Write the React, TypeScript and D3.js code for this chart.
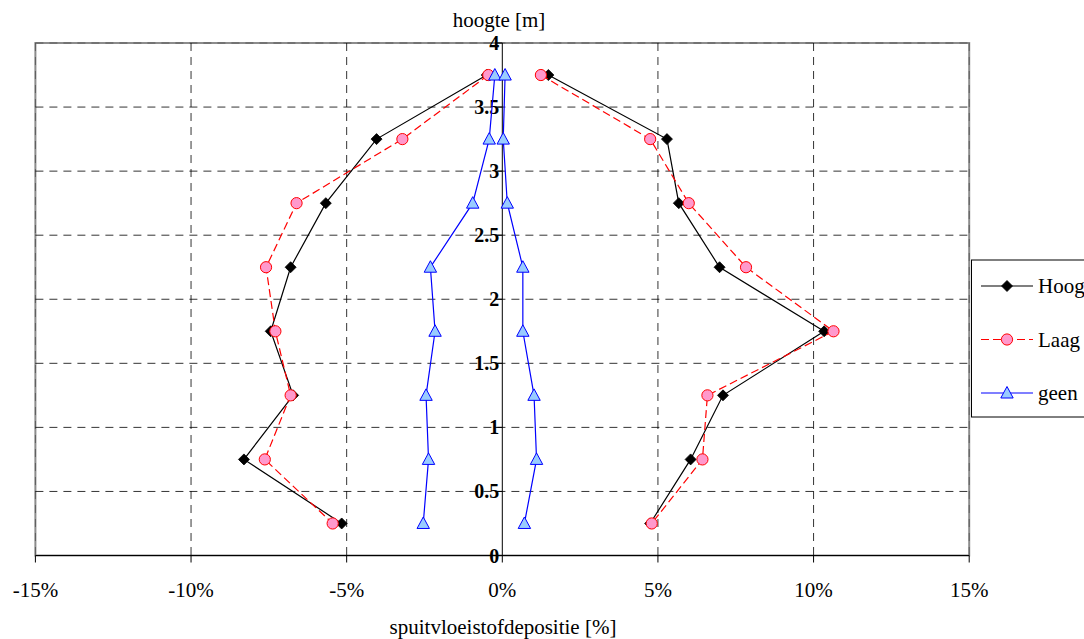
import React from 'react'
import * as d3 from 'd3'

// heights (m) at which deposition was measured
const heights = [3.75, 3.25, 2.75, 2.25, 1.75, 1.25, 0.75, 0.25]

// left side of the tree (negative) and right side (positive), in %
const hoogLeft = [-0.5, -4.04, -5.67, -6.8, -7.44, -6.72, -8.3, -5.16]
const hoogRight = [1.48, 5.29, 5.67, 6.98, 10.34, 7.09, 6.05, 4.75]
const laagLeft = [-0.45, -3.21, -6.61, -7.59, -7.29, -6.8, -7.63, -5.45]
const laagRight = [1.24, 4.75, 5.99, 7.83, 10.64, 6.59, 6.43, 4.8]
const geenLeft = [-0.24, -0.42, -0.95, -2.31, -2.16, -2.45, -2.37, -2.54]
const geenRight = [0.09, 0.03, 0.16, 0.66, 0.66, 1.02, 1.1, 0.71]

const xTicks = [-15, -10, -5, 0, 5, 10, 15]
const yTicks = [0, 0.5, 1, 1.5, 2, 2.5, 3, 3.5, 4]

const seriesNames = ['Hoog', 'Laag', 'geen']

const W = 1084
const H = 639
const plot = { left: 35.4, right: 969.2, top: 43, bottom: 555.5 }
const font = 'Liberation Serif'

const x = d3.scaleLinear().domain([-15, 15]).range([plot.left, plot.right])
const y = d3.scaleLinear().domain([0, 4]).range([plot.bottom, plot.top])

const line = d3
  .line<[number, number]>()
  .x((d) => x(d[0]))
  .y((d) => y(d[1]))

const pairs = (vals: number[]) => vals.map((v, i) => [v, heights[i]] as [number, number])

type Style = { stroke: string; dash?: string; marker: 'diamond' | 'circle' | 'triangle' }
const styles: Style[] = [
  { stroke: '#000000', marker: 'diamond' },
  { stroke: '#ff0000', dash: '8,4', marker: 'circle' },
  { stroke: '#0000ff', marker: 'triangle' },
]

// marker drawn centred on (cx, cy)
const Marker = ({ kind, cx, cy }: { kind: Style['marker']; cx: number; cy: number }) => {
  if (kind === 'diamond')
    return (
      <path
        d={`M${cx},${cy - 5.5} L${cx + 5.5},${cy} L${cx},${cy + 5.5} L${cx - 5.5},${cy} Z`}
        fill="#000"
        stroke="#000"
        strokeWidth={0.8}
      />
    )
  if (kind === 'circle')
    return <circle cx={cx} cy={cy} r={5.6} fill="#ff99cc" stroke="#ff0000" strokeWidth={1} />
  return (
    <path
      d={`M${cx},${cy - 6.5} L${cx + 6.2},${cy + 5} L${cx - 6.2},${cy + 5} Z`}
      fill="#99ccff"
      stroke="#0000ff"
      strokeWidth={1}
    />
  )
}

const Series = ({ left, right, style }: { left: number[]; right: number[]; style: Style }) => (
  <g>
    {[left, right].map((vals, k) => (
      <g key={k}>
        <path
          d={line(pairs(vals)) || ''}
          fill="none"
          stroke={style.stroke}
          strokeWidth={1.2}
          strokeDasharray={style.dash}
        />
        {pairs(vals).map((p, i) => (
          <Marker key={i} kind={style.marker} cx={x(p[0])} cy={y(p[1])} />
        ))}
      </g>
    ))}
  </g>
)

const App = () => {
  const data = [
    [hoogLeft, hoogRight],
    [laagLeft, laagRight],
    [geenLeft, geenRight],
  ]
  const x0 = x(0)

  return (
    <svg
      width={W}
      height={H}
      className="chart"
      style={{ position: 'absolute', left: 0, top: 0, display: 'block' }}
    >
      <style>{`.chart text { font-family: 'Liberation Serif', 'Times New Roman', serif !important; }`}</style>
      {/* plot area border */}
      <rect
        x={plot.left}
        y={plot.top}
        width={plot.right - plot.left}
        height={plot.bottom - plot.top}
        fill="none"
        stroke="#8c8c8c"
        strokeWidth={2}
      />
      {/* grid */}
      {yTicks.filter((t) => t > 0).map((t) => (
        <line
          key={`gy${t}`}
          x1={plot.left}
          x2={plot.right}
          y1={y(t)}
          y2={y(t)}
          stroke="#000"
          strokeOpacity={t === 4 ? 0.35 : 0.8}
          strokeWidth={1}
          strokeDasharray="8,6"
        />
      ))}
      {xTicks.filter((t) => t !== 0).map((t) => (
        <line
          key={`gx${t}`}
          x1={x(t)}
          x2={x(t)}
          y1={plot.top}
          y2={plot.bottom}
          stroke="#000"
          strokeOpacity={Math.abs(t) === 15 ? 0.35 : 0.8}
          strokeWidth={1}
          strokeDasharray="8,6"
        />
      ))}

      {/* x axis */}
      <line x1={plot.left} x2={plot.right} y1={plot.bottom} y2={plot.bottom} stroke="#000" strokeWidth={1.2} />
      {xTicks.map((t) => (
        <line key={`xt${t}`} x1={x(t)} x2={x(t)} y1={plot.bottom} y2={plot.bottom + 7} stroke="#000" />
      ))}
      {xTicks.map((t) => (
        <text key={`xl${t}`} x={x(t)} y={597} textAnchor="middle" fontSize={21} fontFamily={font}>
          {String(t)}%
        </text>
      ))}
      <text x={503} y={634} textAnchor="middle" fontSize={21} fontFamily={font}>
        spuitvloeistofdepositie [%]
      </text>

      {/* y axis at 0% */}
      <line x1={x0} x2={x0} y1={plot.top} y2={plot.bottom} stroke="#000" strokeWidth={1} />
      {yTicks.map((t) => (
        <line key={`yt${t}`} x1={x0 - 7} x2={x0} y1={y(t)} y2={y(t)} stroke="#000" />
      ))}
      {yTicks.map((t) => (
        <text
          key={`yl${t}`}
          x={x0 - 3}
          y={y(t) + 7}
          textAnchor="end"
          fontSize={20}
          fontWeight="bold"
          fontFamily={font}
        >
          {String(t)}
        </text>
      ))}
      <text x={499} y={27} textAnchor="middle" fontSize={21} fontFamily={font}>
        hoogte [m]
      </text>

      {/* series */}
      {data.map((d, i) => (
        <Series key={seriesNames[i]} left={d[0]} right={d[1]} style={styles[i]} />
      ))}

      {/* legend */}
      <rect x={971.5} y={260} width={130} height={157} fill="#fff" stroke="#000" strokeWidth={1} />
      {seriesNames.map((name, i) => {
        const ly = 286 + i * 53.5
        const s = styles[i]
        return (
          <g key={`lg${name}`}>
            <line
              x1={981}
              x2={1033}
              y1={ly}
              y2={ly}
              stroke={s.stroke}
              strokeWidth={1.2}
              strokeDasharray={s.dash}
            />
            <Marker kind={s.marker} cx={1007} cy={ly} />
          </g>
        )
      })}
      {seriesNames.map((name, i) => (
        <text key={`lt${name}`} x={1038} y={286 + i * 53.5 + 7} fontSize={21} fontFamily={font}>
          {name}
        </text>
      ))}
    </svg>
  )
}

export default App
